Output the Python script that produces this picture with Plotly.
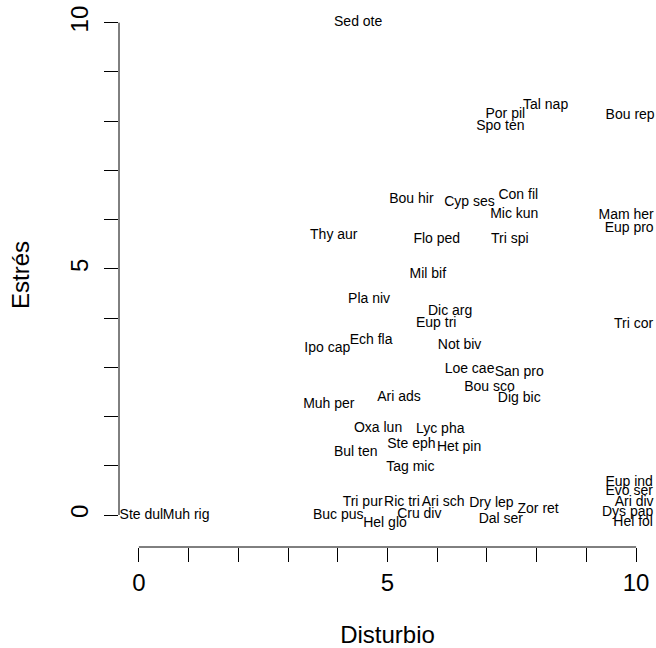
import plotly.graph_objects as go

FONT = "Liberation Sans, Arial, Helvetica, sans-serif"

species = [
    "Sed ote", "Tal nap", "Por pil", "Spo ten", "Bou rep",
    "Bou hir", "Cyp ses", "Con fil", "Mic kun", "Mam her",
    "Eup pro", "Thy aur", "Flo ped", "Tri spi", "Mil bif",
    "Pla niv", "Dic arg", "Eup tri", "Tri cor", "Ech fla",
    "Ipo cap", "Not biv", "Loe cae", "San pro", "Bou sco",
    "Dig bic", "Ari ads", "Muh per", "Oxa lun", "Lyc pha",
    "Ste eph", "Het pin", "Bul ten", "Tag mic", "Eup ind",
    "Evo ser", "Ari div", "Dys pap", "Hel fol", "Ste dul",
    "Muh rig", "Buc pus", "Tri pur", "Ric tri", "Hel glo",
    "Cru div", "Ari sch", "Dry lep", "Dal ser", "Zor ret",
]
disturbio = [
    4.41, 8.18, 7.37, 7.27, 9.88,
    5.48, 6.65, 7.63, 7.55, 9.80,
    9.86, 3.92, 5.99, 7.46, 5.81,
    4.63, 6.26, 5.98, 9.95, 4.67,
    3.79, 6.45, 6.65, 7.65, 7.05,
    7.65, 5.23, 3.82, 4.81, 6.06,
    5.48, 6.44, 4.36, 5.46, 9.86,
    9.86, 9.96, 9.83, 9.94, 0.05,
    0.95, 4.01, 4.50, 5.29, 4.95,
    5.64, 6.12, 7.09, 7.28, 8.03,
]
estres = [
    10.00, 8.32, 8.14, 7.89, 8.12,
    6.40, 6.34, 6.50, 6.10, 6.09,
    5.82, 5.68, 5.60, 5.60, 4.88,
    4.37, 4.13, 3.89, 3.87, 3.55,
    3.39, 3.45, 2.96, 2.90, 2.59,
    2.37, 2.38, 2.25, 1.76, 1.74,
    1.44, 1.37, 1.27, 0.96, 0.67,
    0.47, 0.25, 0.05, -0.16, 0.00,
    0.00, 0.00, 0.25, 0.25, -0.18,
    0.02, 0.25, 0.23, -0.09, 0.11,
]

x_ticks = [0, 1, 2, 3, 4, 5, 6, 7, 8, 9, 10]
x_ticklabels = ["0", "", "", "", "", "5", "", "", "", "", "10"]
y_ticks = [0, 1, 2, 3, 4, 5, 6, 7, 8, 9, 10]
y_ticklabels = ["0", "", "", "", "", "5", "", "", "", "", "10"]

x_title = "Disturbio"
y_title = "Estrés"

fig = go.Figure(
    go.Scatter(
        x=disturbio,
        y=estres,
        mode="text",
        text=species,
        textposition="middle center",
        textfont=dict(family=FONT, size=14, color="black"),
        hoverinfo="text",
        showlegend=False,
    )
)

# R-style axis lines that only span the first to last tick
fig.add_shape(type="line", xref="x", yref="paper",
              x0=x_ticks[0], x1=x_ticks[-1], y0=0, y1=0,
              line=dict(color="black", width=1))
fig.add_shape(type="line", xref="paper", yref="y",
              x0=0, x1=0, y0=y_ticks[0], y1=y_ticks[-1],
              line=dict(color="black", width=1))

fig.update_layout(
    width=656,
    height=648,
    margin=dict(l=119, r=0, t=3, b=101, pad=0),
    paper_bgcolor="white",
    plot_bgcolor="white",
    font=dict(family=FONT, size=24, color="black"),
    xaxis=dict(
        range=[-0.4, 10.4],
        tickmode="array",
        tickvals=x_ticks,
        ticktext=x_ticklabels,
        ticks="outside",
        ticklen=14,
        tickwidth=1,
        tickcolor="black",
        tickfont=dict(family=FONT, size=24, color="black"),
        ticklabelstandoff=0,
        showgrid=False,
        zeroline=False,
        showline=False,
        title=dict(text=x_title, font=dict(family=FONT, size=24, color="black"), standoff=40),
        automargin=False,
    ),
    yaxis=dict(
        range=[-0.65, 10.4],
        tickmode="array",
        tickvals=y_ticks,
        ticktext=y_ticklabels,
        ticks="outside",
        ticklen=14,
        tickwidth=1,
        tickcolor="black",
        tickangle=-90,
        tickfont=dict(family=FONT, size=24, color="black"),
        ticklabelstandoff=6,
        showgrid=False,
        zeroline=False,
        showline=False,
        title=dict(text=y_title, font=dict(family=FONT, size=24, color="black"), standoff=30),
        automargin=False,
    ),
)

fig.write_html(
    "out.html",
    config={"displayModeBar": False},
    post_script=(
        "document.body.style.margin='0';"
        "document.body.style.padding='0';"
        "document.documentElement.style.overflow='hidden';"
    ),
)
